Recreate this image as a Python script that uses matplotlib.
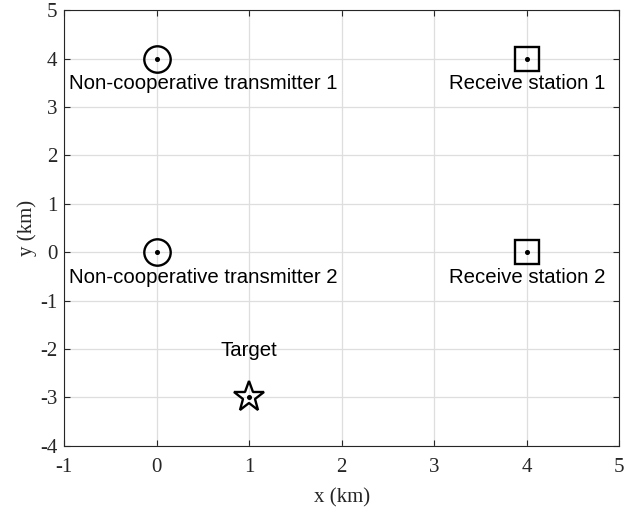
import matplotlib
matplotlib.use("Agg")
import matplotlib.pyplot as plt

# Data
tx_x = [0, 0]
tx_y = [4, 0]
rx_x = [4, 4]
rx_y = [4, 0]
target_x = [1]
target_y = [-3]

label_names = ["Non-cooperative transmitter 1", "Receive station 1",
               "Non-cooperative transmitter 2", "Receive station 2", "Target"]
label_x = [-0.95, 3.16, -0.95, 3.16, 0.69]
label_y = [3.48, 3.48, -0.52, -0.52, -2.03]

xticks = [-1, 0, 1, 2, 3, 4, 5]
yticks = [-4, -3, -2, -1, 0, 1, 2, 3, 4, 5]

fig = plt.figure(figsize=(6.35, 5.09), dpi=100)
ax = fig.add_axes([0.101, 0.124, 0.874, 0.856])

ax.grid(True, color="#dedede", linewidth=0.9, zorder=0)
ax.set_axisbelow(True)

mk = dict(linestyle="none", markerfacecolor="none", markeredgecolor="black",
          markeredgewidth=1.7, zorder=3)
ax.plot(tx_x, tx_y, marker="o", markersize=19, **mk)
ax.plot(rx_x, rx_y, marker="s", markersize=17, **mk)
ax.plot(target_x, target_y, marker="*", markersize=23, **mk)
ax.plot(tx_x + rx_x + target_x, tx_y + rx_y + target_y, linestyle="none",
        marker="o", markersize=2.6, color="black", zorder=4)

for name, x, y in zip(label_names, label_x, label_y):
    ax.text(x, y, name, ha="left", va="center", fontsize=14.7,
            family="Liberation Sans", color="black")

ax.set_xlim(-1, 5)
ax.set_ylim(-4, 5)
ax.set_xticks(xticks)
ax.set_yticks(yticks)
ax.set_xticklabels([str(t) for t in xticks], family="Liberation Serif", fontsize=15)
ax.set_yticklabels([str(t) for t in yticks], family="Liberation Serif", fontsize=15)
ax.tick_params(direction="in", top=True, right=True, length=4, width=0.8,
               colors="#262626")
ax.tick_params(axis="x", pad=9)
ax.tick_params(axis="y", pad=5)
for s in ax.spines.values():
    s.set_color("#262626")
    s.set_linewidth(0.8)

ax.set_xlabel("x (km)", family="Liberation Serif", fontsize=15, color="#262626", labelpad=8)
ax.set_ylabel("y (km)", family="Liberation Serif", fontsize=15, color="#262626", labelpad=2)

fig.savefig("out.png", dpi=100)
